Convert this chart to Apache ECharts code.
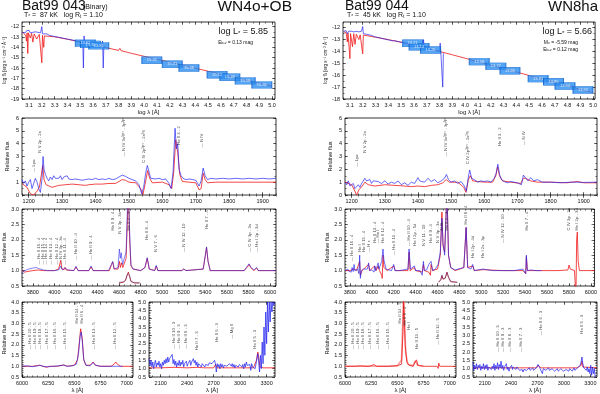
<!DOCTYPE html>
<html>
<head>
<meta charset="utf-8">
<script src="https://cdn.jsdelivr.net/npm/echarts@6/dist/echarts.min.js"></script>
<style>
  html, body { margin: 0; background: #fff; }
  #chart { width: 600px; height: 394px; }
</style>
</head>
<body>
<div id="chart"></div>
<script>
// ---- tick labels ----
const sedXTicks = [3.1, 3.2, 3.3, 3.4, 3.5, 3.6, 3.7, 3.8, 3.9, 4.0, 4.1, 4.2, 4.3, 4.4, 4.5, 4.6, 4.7, 4.8, 4.9, 5.0]
const sedYTicksL = [-19, -18, -17, -16, -15, -14, -13, -12]
const sedYTicksR = [-18, -17, -16, -15, -14, -13, -12]
const uvXTicks = [1200, 1300, 1400, 1500, 1600, 1700, 1800, 1900]
const uvYTicks = [0, 1, 2, 3, 4, 5, 6]
const optXTicks = [3800, 4000, 4200, 4400, 4600, 4800, 5000, 5200, 5400, 5600, 5800, 6000]
const optYTicks = [0.5, 1.0, 1.5, 2.0, 2.5, 3.0]
const haXTicks = [6000, 6250, 6500, 6750, 7000]
const haYTicks = [0.5, 1.0, 1.5, 2.0, 2.5, 3.0, 3.5, 4.0]
const nuvXTicks = [2100, 2400, 2700, 3000, 3300]
const nuvYTicks = [0.5, 1.0, 1.5, 2.0, 2.5, 3.0, 3.5, 4.0, 4.5, 5.0]

// ---- Bat99 043 (left) ----
const sedModelL = [[3.05,-12.5],[3.06,-12.55],[3.075,-12.9],[3.08,-13.4],[3.085,-12.6],[3.09,-14.6],[3.095,-12.6],[3.11,-13.1],[3.12,-12.65],[3.13,-13.5],[3.14,-12.7],[3.16,-13.2],[3.18,-12.75],[3.195,-12.8],[3.2,-15.5],[3.205,-12.85],[3.215,-14.0],[3.22,-12.9],[3.3,-12.98],[3.4,-13.22],[3.5,-13.47],[3.6,-13.74],[3.7,-14.02],[3.8,-14.3],[3.81,-14.1],[3.82,-14.33],[3.9,-14.58],[4.0,-14.87],[4.1,-15.15],[4.2,-15.44],[4.3,-15.73],[4.4,-16.02],[4.5,-16.31],[4.6,-16.6],[4.7,-16.89],[4.8,-17.18],[4.9,-17.47],[5.0,-17.76]]
const sedObsL = [[3.05,-12.55],[3.06,-12.45],[3.07,-12.6],[3.08,-12.4],[3.09,-12.5],[3.1,-12.35],[3.11,-12.6],[3.12,-12.5],[3.13,-12.55],[3.14,-12.6],[3.15,-12.5],[3.16,-12.65],[3.17,-12.55],[3.18,-12.7],[3.19,-12.6],[3.2,-12.0],[3.205,-12.7],[3.21,-12.65],[3.22,-12.75],[3.24,-12.7],[3.26,-12.85],[3.28,-12.9],[3.3,-12.95],[3.32,-13.0],[3.34,-13.05],[3.36,-13.1],[3.38,-13.15],[3.4,-13.2],[3.42,-13.25],[3.44,-13.3],[3.46,-13.35],[3.48,-13.4],[3.5,-13.45],[3.51,-13.3],[3.52,-13.5],[3.525,-16.0],[3.53,-12.9],[3.535,-13.6],[3.55,-13.55],[3.57,-13.6],[3.59,-13.7],[3.61,-13.75],[3.63,-13.8],[3.65,-13.85],[3.67,-13.9],[3.675,-13.4],[3.68,-16.0],[3.685,-13.95],[3.7,-14.0]]
const photL = [[3.54,-13.6,'13.62'],[3.58,-13.72,'13.70'],[3.645,-13.86,'13.81'],[4.06,-15.25,'15.22'],[4.22,-15.64,'15.31'],[4.35,-16.0,'15.38'],[4.57,-16.65,'15.52'],[4.67,-16.9,'15.49'],[4.79,-17.25,'15.58'],[4.92,-17.64,'15.66']]

const uvModelL = [[1180,0.9],[1195,0.6],[1205,0.1],[1215,0.0],[1225,0.3],[1232,0.6],[1238,1.6],[1242,2.3],[1246,1.2],[1252,0.8],[1270,0.6],[1290,0.75],[1310,0.8],[1330,0.85],[1350,0.8],[1370,0.75],[1380,0.8],[1400,0.85],[1420,0.85],[1440,0.9],[1460,0.9],[1480,1.2],[1490,1.15],[1500,1.0],[1520,0.95],[1535,0.5],[1542,0.05],[1548,0.8],[1556,1.9],[1562,1.3],[1570,0.95],[1600,1.0],[1620,0.8],[1628,0.5],[1634,1.8],[1640,4.3],[1646,3.3],[1652,1.6],[1660,1.05],[1680,1.0],[1700,0.95],[1710,0.4],[1716,0.5],[1722,1.7],[1728,1.2],[1735,0.95],[1760,1.0],[1800,1.0],[1850,1.0],[1900,1.0],[1940,1.0]]
const uvObsL = [[1180,1.2],[1185,0.9],[1190,1.1],[1195,0.7],[1200,1.0],[1205,1.2],[1210,0.5],[1215,0.9],[1220,1.3],[1225,1.0],[1230,0.5],[1235,0.2],[1240,1.3],[1243,3.0],[1246,2.0],[1250,1.6],[1255,1.3],[1260,1.1],[1265,1.4],[1270,1.2],[1275,1.5],[1280,1.3],[1285,1.4],[1290,1.3],[1295,1.5],[1300,1.2],[1305,1.4],[1310,1.3],[1315,1.5],[1320,1.25],[1325,1.4],[1330,1.2],[1335,1.35],[1340,1.25],[1345,1.3],[1350,1.2],[1355,1.3],[1360,1.15],[1365,1.3],[1370,1.2],[1375,1.35],[1380,1.25],[1390,1.2],[1400,1.3],[1410,1.2],[1420,1.25],[1430,1.2],[1440,1.3],[1450,1.2],[1460,1.25],[1470,1.4],[1480,1.55],[1490,1.45],[1500,1.3],[1510,1.2],[1520,1.1],[1530,0.8],[1538,0.1],[1544,0.6],[1550,1.7],[1555,2.3],[1560,1.8],[1565,1.3],[1570,1.2],[1580,1.25],[1590,1.3],[1600,1.2],[1610,1.25],[1620,0.9],[1626,0.5],[1632,1.8],[1638,5.2],[1642,3.6],[1646,4.0],[1650,2.0],[1656,1.5],[1662,1.3],[1670,1.2],[1680,1.25],[1690,1.2],[1700,1.15],[1710,0.7],[1716,1.1],[1722,2.1],[1728,1.5],[1735,1.2],[1745,1.3],[1760,1.25],[1780,1.3],[1800,1.25],[1820,1.3],[1840,1.25],[1860,1.3],[1880,1.25],[1900,1.3],[1920,1.25],[1940,1.3]]
const uvIdsL = [[1216,1.8,'— Lyα'],[1232,3.3,'N V 2p - 2s'],[1485,3.0,'— N IV 3s³P° - 3p³P'],[1545,2.5,'C IV 2p²P° - 2s²S'],[1650,3.9,'He II 3 - 2'],[1718,3.7,'— N IV']]

const optModelL = [[3700,1.0],[3720,0.95],[3800,1.0],[3850,1.02],[3900,1.0],[3960,1.0],[4000,1.0],[4040,1.05],[4058,1.33],[4070,1.05],[4090,1.03],[4100,1.1],[4110,1.02],[4180,1.0],[4200,1.12],[4220,1.0],[4320,1.0],[4340,1.12],[4360,1.0],[4510,1.0],[4530,1.2],[4541,1.28],[4555,1.05],[4590,1.05],[4604,1.3],[4612,1.1],[4622,1.25],[4635,1.1],[4650,1.15],[4665,1.4],[4676,2.5],[4686,3.6],[4698,2.0],[4710,1.15],[4730,1.05],[4800,1.0],[4840,1.1],[4861,1.4],[4880,1.05],[4930,1.0],[4945,1.15],[4960,1.0],[5180,1.0],[5200,1.05],[5220,1.0],[5380,1.05],[5400,1.5],[5411,1.75],[5425,1.3],[5445,1.0],[5760,1.0],[5790,1.12],[5805,1.2],[5820,1.1],[5850,1.0],[5875,1.08],[5890,1.0],[6055,1.0]]
const optObsL = [[3700,0.9],[3710,0.97],[3730,1.0],[3760,1.05],[3800,1.08],[3830,1.1],[3860,1.06],[3900,1.02],[3940,1.0],[4000,1.0],[4040,1.02],[4058,1.15],[4075,1.02],[4100,1.1],[4120,1.02],[4180,1.0],[4200,1.14],[4220,1.0],[4320,1.0],[4340,1.15],[4360,1.0],[4500,1.0],[4530,1.2],[4541,1.3],[4555,1.05],[4590,1.1],[4603,1.7],[4612,1.4],[4620,1.58],[4632,1.2],[4650,1.2],[4665,1.6],[4676,2.9],[4686,3.6],[4698,2.3],[4710,1.2],[4730,1.05],[4800,1.0],[4840,1.1],[4861,1.42],[4880,1.05],[4930,1.0],[4945,1.17],[4960,1.0],[5180,1.0],[5200,1.05],[5220,1.0],[5380,1.05],[5400,1.5],[5411,1.77],[5425,1.3],[5445,1.0],[5760,1.0],[5790,1.15],[5805,1.22],[5820,1.12],[5850,1.02],[5875,1.1],[5890,1.0],[6055,1.0]]
const insetModelL = [[4600,0.6],[4640,0.62],[4660,0.68],[4675,0.85],[4686,0.95],[4697,0.82],[4710,0.65],[4740,0.6],[4790,0.6]]
const insetObsL = [[4600,0.62],[4640,0.64],[4660,0.7],[4675,0.88],[4686,0.94],[4697,0.85],[4710,0.66],[4740,0.61],[4790,0.6]]
const optIdsL = [[3860,1.2,'— He II 16 - 4'],[3890,1.2,'— He II 15 - 4'],[3923,1.2,'— He II 14 - 4'],[3968,1.2,'— He II 13 - 4'],[4025,1.2,'— He II 12 - 4'],[4058,1.2,'— N IV 3p - 3s'],[4100,1.2,'— He II 11 - 4'],[4200,1.35,'— He II 10 - 4'],[4340,1.35,'— He II 9 - 4'],[4541,2.3,'He II 9 - 4'],[4604,2.2,'N V 3p - 3s'],[4686,2.3,'He II 4 - 3'],[4861,2.0,'He II 8 - 4'],[4945,1.6,'N V 7 - 6'],[5200,1.6,'— N IV 12 - 10'],[5411,2.35,'He II 7 - 4'],[5808,1.6,'— C IV 3p - 3s'],[5876,1.6,'— He I 2p - 3d']]

const haModelL = [[6000,1.0],[6100,1.0],[6170,1.05],[6200,1.0],[6235,0.95],[6260,1.0],[6330,1.0],[6400,1.06],[6430,1.0],[6500,1.05],[6530,1.3],[6545,2.0],[6560,2.75],[6575,2.3],[6590,1.3],[6610,1.05],[6650,1.05],[6680,1.2],[6700,1.05],[6750,1.0],[6850,1.0],[6880,1.1],[6895,1.2],[6910,1.1],[6940,1.0],[7060,1.0]]
const haObsL = [[6000,1.0],[6050,1.02],[6100,0.98],[6150,1.02],[6170,1.05],[6200,1.0],[6230,0.98],[6245,0.9],[6260,0.98],[6300,1.0],[6350,1.02],[6400,1.06],[6430,1.0],[6480,1.02],[6520,1.1],[6540,1.6],[6555,2.4],[6565,2.6],[6575,2.2],[6590,1.3],[6610,1.05],[6650,1.02],[6680,1.18],[6700,1.05],[6750,1.0],[6800,1.0],[6850,1.0],[6900,1.0],[6960,1.0]]
const haIdsL = [[6074,1.8,'— He II 20 - 5'],[6118,1.8,'— He II 19 - 5'],[6171,1.8,'— He II 18 - 5'],[6234,1.8,'— He II 17 - 5'],[6311,1.8,'— He II 16 - 5'],[6406,1.8,'— He II 15 - 5'],[6527,3.0,'He II 14 - 5'],[6575,3.0,'He II 6 - 4'],[6683,1.8,'— He II 13 - 5'],[6891,1.8,'— He II 12 - 5']]

const nuvModelL = [[1967,1.05],[2100,1.05],[2250,1.08],[2400,1.05],[2510,1.08],[2600,1.05],[2700,1.05],[2720,1.25],[2740,1.05],[2900,1.05],[3150,1.05],[3185,1.5],[3200,2.0],[3210,1.7],[3225,1.1],[3260,1.05],[3395,1.05]]
const nuvObsL = [[1967,1.6],[1980,1.2],[1990,1.5],[2000,1.1],[2010,1.4],[2020,1.0],[2030,1.3],[2040,1.5],[2050,1.1],[2060,1.35],[2070,1.2],[2080,1.45],[2090,1.1],[2100,1.3],[2110,1.0],[2120,1.4],[2130,1.2],[2140,1.5],[2150,1.3],[2160,1.6],[2170,1.35],[2180,1.7],[2190,1.4],[2200,1.6],[2210,1.5],[2220,1.6],[2230,1.85],[2240,1.3],[2250,1.55],[2260,1.2],[2270,1.45],[2280,1.1],[2290,1.35],[2300,1.2],[2310,1.5],[2320,1.15],[2330,1.4],[2340,1.25],[2350,1.5],[2360,1.1],[2370,1.3],[2380,1.2],[2390,1.45],[2400,1.15],[2410,1.3],[2420,1.25],[2430,1.5],[2440,1.2],[2450,1.4],[2460,1.3],[2470,1.6],[2480,1.35],[2490,1.5],[2500,1.2],[2510,1.4],[2520,1.1],[2530,1.3],[2540,1.2],[2550,1.4],[2560,1.1],[2570,1.3],[2580,1.2],[2590,1.35],[2600,1.1],[2610,1.25],[2620,1.15],[2630,1.3],[2640,1.2],[2650,1.35],[2660,1.25],[2670,1.45],[2680,1.3],[2690,1.4],[2700,1.35],[2710,1.5],[2720,1.3],[2730,0.8],[2740,1.3],[2750,1.1],[2760,1.25],[2770,1.0],[2780,1.3],[2790,1.1],[2800,1.25],[2810,1.05],[2820,1.2],[2830,1.1],[2840,1.3],[2850,1.15],[2860,1.25],[2870,1.1],[2880,1.3],[2890,1.2],[2900,1.15],[2910,1.3],[2920,1.1],[2930,1.25],[2940,1.05],[2950,1.2],[2960,1.1],[2970,1.3],[2980,1.1],[2990,1.25],[3000,1.15],[3010,1.3],[3020,1.1],[3030,1.25],[3040,1.0],[3050,1.3],[3060,1.1],[3070,1.4],[3080,1.2],[3090,1.3],[3100,1.1],[3110,1.25],[3120,0.9],[3130,1.3],[3140,1.1],[3150,1.2],[3170,1.0],[3190,1.6],[3200,1.9],[3210,1.4],[3220,0.8],[3230,1.8],[3240,1.0],[3250,2.6],[3260,1.3],[3270,3.5],[3280,1.8],[3290,4.4],[3300,2.5],[3310,5.0],[3320,3.2],[3330,5.0],[3340,3.8],[3350,5.0],[3360,4.4],[3370,5.0],[3380,4.8],[3395,5.0]]
const nuvIdsL = [[2253,2.2,'— He II 10 - 3'],[2306,2.2,'— He II 9 - 3'],[2385,2.2,'— He II 8 - 3'],[2511,2.1,'He II 7 - 3'],[2733,2.6,'He II 6 - 3'],[2900,2.8,'— Mg II'],[3170,2.2,'He II 5 - 3']]

// ---- Bat99 044 (right) ----
const sedModelR = [[3.05,-12.35],[3.07,-12.4],[3.08,-13.2],[3.085,-12.45],[3.1,-14.6],[3.105,-12.5],[3.12,-13.6],[3.13,-12.5],[3.14,-13.4],[3.15,-12.55],[3.17,-13.0],[3.18,-12.6],[3.2,-14.2],[3.205,-12.62],[3.3,-12.8],[3.4,-13.0],[3.5,-13.22],[3.6,-13.46],[3.7,-13.72],[3.8,-14.0],[3.9,-14.28],[4.0,-14.57],[4.1,-14.86],[4.2,-15.15],[4.3,-15.44],[4.4,-15.73],[4.5,-16.02],[4.6,-16.31],[4.7,-16.6],[4.8,-16.89],[4.9,-17.18],[5.0,-17.47]]
const sedObsR = [[3.05,-12.3],[3.06,-12.45],[3.07,-12.25],[3.08,-12.5],[3.09,-12.3],[3.1,-12.4],[3.11,-12.3],[3.12,-12.45],[3.13,-12.35],[3.14,-12.4],[3.15,-12.3],[3.16,-12.45],[3.17,-12.35],[3.18,-12.4],[3.19,-12.3],[3.2,-11.9],[3.205,-12.5],[3.21,-12.4],[3.23,-12.55],[3.25,-12.6],[3.27,-12.65],[3.29,-12.75],[3.31,-12.8],[3.33,-12.85],[3.35,-12.9],[3.37,-12.95],[3.39,-13.0],[3.41,-13.05],[3.43,-13.1],[3.45,-13.1],[3.47,-13.15],[3.49,-13.2],[3.51,-13.25],[3.53,-13.3],[3.55,-13.35],[3.57,-13.4],[3.59,-13.45],[3.61,-13.5],[3.63,-13.55],[3.65,-13.6],[3.67,-13.65],[3.675,-13.0],[3.68,-13.7],[3.7,-13.75],[3.72,-13.8],[3.74,-13.85],[3.76,-13.9],[3.78,-13.95],[3.8,-14.0],[3.805,-13.3],[3.81,-14.05],[3.82,-14.1],[3.825,-17.0],[3.83,-14.15]]
const photR = [[3.59,-13.31,'13.21'],[3.64,-13.6,'13.14'],[3.73,-13.88,'13.26'],[4.11,-14.86,'13.58'],[4.24,-15.25,'13.77'],[4.35,-15.62,'13.86'],[4.57,-16.29,'13.91'],[4.69,-16.55,'13.85'],[4.78,-16.91,'13.94'],[4.92,-17.24,'13.92']]

const uvModelR = [[1180,1.0],[1200,0.8],[1210,0.3],[1215,0.0],[1222,0.4],[1232,0.7],[1240,1.0],[1250,0.8],[1270,0.7],[1300,0.8],[1330,0.75],[1360,0.7],[1380,0.65],[1400,0.7],[1420,0.65],[1440,0.75],[1460,0.8],[1475,0.95],[1485,1.2],[1495,1.0],[1520,1.0],[1538,0.6],[1545,0.2],[1552,1.2],[1558,1.5],[1565,1.1],[1580,1.05],[1600,1.0],[1625,1.0],[1635,1.5],[1640,2.2],[1646,1.5],[1655,1.1],[1680,1.0],[1710,0.9],[1718,1.3],[1725,1.3],[1740,1.1],[1760,1.0],[1800,1.0],[1850,0.95],[1880,1.05],[1900,0.95],[1940,0.95]]
const uvObsR = [[1180,1.0],[1185,0.8],[1190,1.1],[1195,0.7],[1200,0.6],[1205,0.9],[1210,0.5],[1215,0.6],[1220,0.8],[1225,0.6],[1230,0.9],[1235,0.8],[1240,1.3],[1245,1.1],[1250,1.0],[1255,1.2],[1260,0.9],[1265,1.1],[1270,0.95],[1280,1.05],[1290,0.9],[1300,1.1],[1310,0.85],[1320,1.0],[1330,0.9],[1340,1.1],[1350,0.8],[1360,0.95],[1370,0.75],[1380,1.0],[1390,0.9],[1400,1.35],[1405,1.1],[1410,1.25],[1420,1.0],[1430,1.3],[1440,1.05],[1450,1.2],[1460,0.95],[1470,1.1],[1480,1.3],[1486,1.6],[1492,1.2],[1500,1.0],[1510,1.1],[1520,0.9],[1530,1.05],[1540,0.7],[1546,0.3],[1552,1.4],[1556,1.95],[1562,1.3],[1570,1.2],[1580,1.0],[1590,1.1],[1600,1.05],[1610,1.1],[1620,1.0],[1630,1.3],[1636,1.7],[1641,2.4],[1646,1.6],[1652,1.2],[1660,1.05],[1670,0.95],[1680,1.05],[1690,1.0],[1700,0.95],[1712,0.8],[1718,1.55],[1724,1.4],[1732,1.1],[1740,1.35],[1750,1.1],[1760,1.2],[1775,1.0],[1800,1.0],[1830,0.95],[1860,1.0],[1880,1.0],[1900,0.98],[1940,1.0]]
const uvIdsR = [[1216,2.2,'— Lyα'],[1240,3.3,'N V 2p - 2s'],[1485,3.0,'— N IV 3s³P° - 3p³P'],[1550,2.4,'C IV 2p²P° - 2s²S'],[1648,3.8,'He II 3 - 2'],[1718,3.9,'— N IV']]

const optModelR = [[3755,1.0],[3800,1.0],[3835,1.05],[3860,1.0],[3889,1.3],[3895,0.85],[3910,1.0],[3970,1.2],[3980,1.0],[4026,1.15],[4040,1.0],[4058,1.15],[4070,1.0],[4090,0.85],[4095,0.75],[4102,1.5],[4110,1.1],[4140,1.0],[4200,1.15],[4215,1.0],[4330,1.0],[4340,1.6],[4350,1.0],[4388,1.1],[4400,1.0],[4460,0.95],[4471,1.2],[4480,1.0],[4520,0.95],[4535,0.85],[4541,1.2],[4555,1.0],[4600,1.05],[4625,1.5],[4640,2.9],[4650,1.8],[4665,1.6],[4686,3.6],[4700,1.5],[4720,1.1],[4760,1.0],[4840,1.1],[4861,2.4],[4875,1.1],[4921,1.15],[4935,1.0],[5016,1.03],[5030,1.0],[5200,1.0],[5380,1.0],[5405,0.9],[5411,1.45],[5420,1.0],[5700,1.0],[5790,1.02],[5801,1.18],[5812,1.05],[5850,1.0],[5858,0.5],[5864,0.3],[5870,2.0],[5876,2.25],[5884,1.3],[5895,1.0],[6033,1.0]]
const optObsR = [[3755,1.0],[3770,0.97],[3780,1.05],[3790,0.98],[3800,1.02],[3812,0.95],[3820,1.1],[3830,0.97],[3838,1.2],[3845,1.0],[3860,0.98],[3870,1.05],[3882,0.9],[3889,1.5],[3895,0.75],[3905,1.0],[3925,1.05],[3940,1.0],[3960,1.05],[3970,1.25],[3980,1.0],[4000,1.02],[4020,0.95],[4026,1.15],[4035,1.0],[4050,1.05],[4058,1.25],[4065,1.05],[4080,1.1],[4090,1.3],[4102,1.7],[4110,1.35],[4120,1.2],[4130,1.05],[4180,1.0],[4200,1.2],[4210,1.0],[4250,1.0],[4330,1.05],[4340,1.7],[4352,1.05],[4388,1.15],[4400,1.0],[4440,1.0],[4460,0.85],[4471,1.3],[4480,1.0],[4500,1.02],[4520,1.2],[4530,1.15],[4541,1.3],[4555,1.0],[4580,1.05],[4605,1.2],[4625,1.6],[4640,2.7],[4650,1.9],[4665,1.5],[4686,3.6],[4700,1.5],[4720,1.1],[4760,1.02],[4840,1.1],[4861,2.4],[4875,1.1],[4905,1.05],[4921,1.2],[4935,1.0],[5016,1.05],[5030,1.0],[5100,1.0],[5200,1.0],[5300,1.0],[5380,1.05],[5405,0.9],[5411,1.5],[5420,1.0],[5450,1.02],[5500,1.0],[5550,1.0]]
const insetModelR = [[4610,0.62],[4630,0.7],[4640,0.84],[4650,0.72],[4670,0.75],[4686,0.95],[4700,0.78],[4720,0.64],[4780,0.62]]
const insetObsR = [[4610,0.63],[4630,0.72],[4640,0.86],[4650,0.74],[4670,0.77],[4686,0.94],[4700,0.8],[4720,0.65],[4780,0.62]]
const optIdsR = [[3820,1.3,'— He II 16 - 4'],[3889,1.6,'He I'],[3923,1.6,'He II 15 - 4'],[3968,1.6,'— H ε'],[4026,1.9,'He II 13 - 4'],[4058,1.9,'— He I'],[4102,1.9,'He II 12 - 4'],[4200,1.5,'— He II 11 - 4'],[4340,1.8,'— He II 10 - 4'],[4388,1.8,'He I 2p - 5d'],[4471,1.8,'N V 11 - 10'],[4541,1.9,'He II 9 - 4'],[4604,1.9,'N V 3p - 3s'],[4640,2.3,'N III'],[4686,2.3,'He II 4 - 3'],[4861,2.5,'He II 8 - 4'],[4921,1.4,'He I 2p - 4d'],[5016,1.4,'He I 2s - 3p'],[5200,1.9,'— N IV 12 - 10'],[5411,2.3,'He II 7 - 4'],[5801,2.3,'C IV 3p - 3s'],[5876,2.3,'He I 2p - 3d']]

const haModelR = [[6000,1.0],[6050,1.0],[6100,1.0],[6150,1.02],[6200,1.0],[6210,1.06],[6230,1.0],[6280,1.08],[6300,1.0],[6400,1.0],[6410,0.95],[6420,1.0],[6500,1.03],[6540,1.1],[6553,2.5],[6560,4.2],[6575,2.0],[6590,1.2],[6610,1.05],[6650,1.0],[6670,1.2],[6683,1.3],[6695,1.05],[6750,1.0],[6880,1.0],[6890,0.9],[6895,1.15],[6905,1.0],[7060,1.0]]
const haObsR = [[6000,1.0],[6100,1.0],[6200,1.0],[6300,1.0],[6400,1.0],[6500,1.02],[6540,1.3],[6552,3.2],[6558,4.2],[6572,4.2],[6580,1.6],[6600,1.1],[6650,1.02],[6670,1.25],[6683,1.3],[6695,1.05],[6750,1.0]]
const haIdsR = [[6074,1.8,'— He II 20 - 5'],[6118,1.8,'— He II 19 - 5'],[6171,1.8,'— He II 18 - 5'],[6234,1.8,'— He II 17 - 5'],[6311,1.8,'— He II 16 - 5'],[6406,1.8,'— He II 15 - 5'],[6520,3.0,'He II 14 - 5'],[6575,2.9,'He II 6 - 4'],[6610,2.7,'He I'],[6683,1.8,'He II 13 - 5'],[6891,2.0,'— He II 12 - 5']]

const nuvModelR = [[1966,1.05],[2100,1.05],[2300,1.05],[2500,1.05],[2690,1.05],[2705,1.2],[2715,1.3],[2725,1.1],[2740,1.05],[2900,1.05],[3150,1.05],[3195,1.2],[3205,1.45],[3215,1.1],[3376,1.05]]
const nuvObsR = [[1966,1.4],[1975,0.9],[1985,1.2],[1995,1.0],[2005,1.3],[2015,0.95],[2025,1.2],[2035,1.05],[2045,1.25],[2055,0.9],[2065,1.15],[2075,1.0],[2085,1.3],[2095,0.95],[2105,1.2],[2115,1.0],[2125,1.25],[2135,0.9],[2145,1.1],[2155,1.0],[2165,1.2],[2175,0.95],[2185,1.15],[2195,1.0],[2205,1.3],[2215,0.9],[2225,1.2],[2235,1.0],[2245,1.35],[2255,0.95],[2265,1.25],[2275,1.05],[2285,1.45],[2295,1.0],[2305,1.2],[2315,0.9],[2325,1.1],[2335,1.0],[2345,1.3],[2355,0.95],[2365,1.1],[2375,0.85],[2385,1.05],[2395,1.0],[2405,1.2],[2415,0.95],[2425,1.1],[2435,1.0],[2445,1.15],[2455,0.95],[2465,1.1],[2475,1.0],[2485,1.05],[2495,0.9],[2505,1.0],[2515,0.85],[2525,0.95],[2535,0.8],[2545,0.95],[2555,0.85],[2565,1.0],[2575,0.9],[2585,1.0],[2595,0.95],[2605,1.05],[2615,0.9],[2625,1.0],[2635,0.95],[2645,1.05],[2655,0.9],[2665,1.0],[2675,0.95],[2685,1.05],[2695,1.1],[2705,1.25],[2715,1.3],[2725,1.05],[2735,0.95],[2745,1.0],[2755,0.7],[2765,1.0],[2775,0.95],[2785,1.05],[2795,0.9],[2805,1.0],[2815,0.95],[2825,1.05],[2835,0.9],[2845,1.0],[2855,0.95],[2865,1.0],[2875,0.9],[2885,0.95],[2895,0.85],[2905,0.95],[2915,0.9],[2925,1.0],[2935,0.85],[2945,0.95],[2955,0.9],[2965,1.0],[2975,0.95],[2985,0.9],[2995,0.85],[3005,0.95],[3015,0.8],[3025,0.95],[3035,0.9],[3045,1.0],[3055,0.85],[3065,1.0],[3075,0.9],[3085,0.95],[3095,0.85],[3105,0.95],[3115,1.05],[3125,0.9],[3135,1.0],[3145,0.95],[3155,1.05],[3165,1.0],[3175,1.1],[3185,1.2],[3195,1.4],[3205,1.7],[3215,1.3],[3225,1.05],[3235,1.0],[3245,1.1],[3255,0.9],[3265,1.1],[3275,0.8],[3285,1.0],[3295,0.7],[3305,1.2],[3315,0.6],[3325,1.1],[3335,0.7],[3345,1.0],[3355,0.5]]
const nuvIdsR = [[2253,2.0,'— He II 10 - 3'],[2306,2.0,'— He II 9 - 3'],[2385,2.0,'— He II 8 - 3'],[2511,2.0,'— He II 7 - 3'],[2733,3.0,'— He II 6 - 3'],[3203,3.1,'He II 5 - 3']]

// ---- build ----
const FONT = 'Liberation Sans, Arial, sans-serif'
const RED = '#f01818'
const BLUE = '#2020f0'
const grids = [], xAxes = [], yAxes = [], series = []

function minorTicks(t, n, lo, hi) {
  const s = (t[1] - t[0]) / n
  let v = t[0]
  while (v - s >= lo - 1e-9) v -= s
  const out = []
  for (; v <= hi + 1e-9; v += s) out.push(+v.toFixed(4))
  return out
}

function panel(box, xr, yr, xt, yt, nx, ny, o) {
  const g = grids.length
  grids.push({ left: box[0], top: box[1], width: box[2] - box[0], height: box[3] - box[1],
    show: true, borderColor: '#000', borderWidth: 0.8, backgroundColor: 'transparent' })
  const xm = minorTicks(xt, nx, xr[0], xr[1]), ym = minorTicks(yt, ny, yr[0], yr[1])
  const xi = xAxes.length, yi = yAxes.length
  const lab = { fontSize: 5.5, color: '#111', fontFamily: FONT }
  ;[['bottom', xt, 3, true], ['bottom', xm, 1.6, false], ['top', xt, 3, false], ['top', xm, 1.6, false]].forEach(([pos, vals, len, main]) => {
    xAxes.push({ gridIndex: g, type: 'value', min: xr[0], max: xr[1], position: pos,
      axisLine: { show: false }, splitLine: { show: false },
      axisTick: { show: true, inside: true, length: len, customValues: vals, lineStyle: { color: '#000', width: 0.5 } },
      axisLabel: { show: main, customValues: vals, margin: 3, ...lab, formatter: v => o.xd != null ? (+v).toFixed(o.xd) : String(v) },
      name: main && o.xName ? o.xName : '', nameLocation: 'middle', nameGap: 10,
      nameTextStyle: { fontSize: 6, color: '#111', fontFamily: FONT } })
  })
  ;[['left', yt, 3, true], ['left', ym, 1.6, false], ['right', yt, 3, false], ['right', ym, 1.6, false]].forEach(([pos, vals, len, main]) => {
    yAxes.push({ gridIndex: g, type: 'value', min: yr[0], max: yr[1], position: pos,
      axisLine: { show: false }, splitLine: { show: false },
      axisTick: { show: true, inside: true, length: len, customValues: vals, lineStyle: { color: '#000', width: 0.5 } },
      axisLabel: { show: main, customValues: vals, margin: 3, ...lab, formatter: v => o.yd != null ? (+v).toFixed(o.yd) : String(v) },
      name: main && o.yName ? o.yName : '', nameLocation: 'middle', nameGap: o.yGap || 12, nameRotate: 90,
      nameTextStyle: { fontSize: o.yNameSize || 5.5, color: '#111', fontFamily: FONT } })
  })
  return { x: xi, y: yi }
}

function line(ax, data, color, w, op, z) {
  series.push({ type: 'line', xAxisIndex: ax.x, yAxisIndex: ax.y, data, symbol: 'none', showSymbol: false,
    lineStyle: { color, width: w || 0.7, opacity: op == null ? 1 : op }, z: z || 2, silent: true, animation: false })
}

function ids(ax, data) {
  series.push({ type: 'scatter', xAxisIndex: ax.x, yAxisIndex: ax.y, data, symbolSize: 1,
    itemStyle: { color: 'transparent' }, silent: true, animation: false, z: 5,
    label: { show: true, position: 'inside', rotate: 90, align: 'left', verticalAlign: 'middle',
      formatter: p => p.value[2], fontSize: 4.3, color: '#222', fontFamily: FONT } })
}

function phot(ax, data) {
  series.push({ type: 'scatter', xAxisIndex: ax.x, yAxisIndex: ax.y, data, symbol: 'rect', symbolSize: [20, 7],
    itemStyle: { color: '#2a8cf0', borderColor: '#0b5fc8', borderWidth: 0.6 }, silent: true, animation: false, z: 6,
    label: { show: true, position: 'inside', formatter: p => p.value[2], fontSize: 4, color: '#fff', fontFamily: FONT } })
}

const sedName = 'log f\u03bb [erg s\u207b\u00b9 cm\u207b\u00b2 \u00c5\u207b\u00b9]'
const relName = 'Relative flux'

// left column
const aSL = panel([22, 22, 275, 99], [3.045, 5.023], [-19, -11.55], sedXTicks, sedYTicksL, 2, 2, { xd: 1, xName: 'log \u03bb [\u00c5]', yName: sedName, yNameSize: 4.5, yGap: 11 })
line(aSL, sedModelL, RED, 0.8)
line(aSL, sedObsL, BLUE, 0.8, 0.85, 3)
phot(aSL, photL)

const aUL = panel([22, 118, 276, 195], [1180, 1940], [0, 6], uvXTicks, uvYTicks, 5, 2, { yName: relName })
line(aUL, uvModelL, RED, 0.8)
line(aUL, uvObsL, BLUE, 0.8, 0.85, 3)
ids(aUL, uvIdsL)

const aOL = panel([22, 209, 276, 286], [3700, 6055], [0.5, 3.0], optXTicks, optYTicks, 4, 5, { yd: 1, yName: relName })
line(aOL, optModelL, RED, 0.8)
line(aOL, optObsL, BLUE, 0.8, 0.7, 3)
line(aOL, insetModelL, '#b01010', 0.8)
line(aOL, insetObsL, '#4020a0', 0.6, 0.6, 3)
ids(aOL, optIdsL)

const aHL = panel([22, 302, 133, 378], [6000, 7060], [0.5, 4.0], haXTicks, haYTicks, 5, 5, { yd: 1, yName: relName, xName: '\u03bb [\u00c5]' })
line(aHL, haModelL, RED, 0.8)
line(aHL, haObsL, BLUE, 0.8, 0.8, 3)
ids(aHL, haIdsL)

const aNL = panel([149, 302, 275, 378], [1967, 3395], [0.5, 5.0], nuvXTicks, nuvYTicks, 3, 5, { yd: 1, xName: '\u03bb [\u00c5]' })
line(aNL, nuvModelL, RED, 0.8)
line(aNL, nuvObsL, BLUE, 0.8, 0.9, 3)
ids(aNL, nuvIdsL)

// right column
const aSR = panel([343, 22, 597, 99], [3.046, 5.015], [-18, -11.52], sedXTicks, sedYTicksR, 2, 2, { xd: 1, xName: 'log \u03bb [\u00c5]', yName: sedName, yNameSize: 4.5, yGap: 11 })
line(aSR, sedModelR, RED, 0.8)
line(aSR, sedObsR, BLUE, 0.8, 0.85, 3)
phot(aSR, photR)

const aUR = panel([345, 118, 597, 195], [1180, 1940], [0, 6], uvXTicks, uvYTicks, 5, 2, { yName: relName })
line(aUR, uvModelR, RED, 0.8)
line(aUR, uvObsR, BLUE, 0.8, 0.85, 3)
ids(aUR, uvIdsR)

const aOR = panel([345, 209, 597, 286], [3755, 6033], [0.5, 3.0], optXTicks, optYTicks, 4, 5, { yd: 1, yName: relName })
line(aOR, optModelR, RED, 0.8)
line(aOR, optObsR, BLUE, 0.8, 0.8, 3)
line(aOR, insetModelR, '#b01010', 0.8)
line(aOR, insetObsR, '#4020a0', 0.6, 0.6, 3)
ids(aOR, optIdsR)

const aHR = panel([345, 302, 456, 378], [6000, 7060], [0.5, 4.0], haXTicks, haYTicks, 5, 5, { yd: 1, yName: relName, xName: '\u03bb [\u00c5]' })
line(aHR, haObsR, '#f7a0a0', 1.6, 1, 1)
line(aHR, haModelR, RED, 0.8)
ids(aHR, haIdsR)

const aNR = panel([473, 302, 597, 378], [1966, 3376], [0.5, 5.0], nuvXTicks, nuvYTicks, 3, 5, { yd: 1, xName: '\u03bb [\u00c5]' })
line(aNR, nuvModelR, RED, 0.8)
line(aNR, nuvObsR, BLUE, 0.8, 0.9, 3)
ids(aNR, nuvIdsR)

// header texts
function txt(x, y, text, size, align, rich) {
  return { type: 'text', left: align === 'right' ? null : x, right: align === 'right' ? 600 - x : null, top: y, silent: true,
    style: { text, fontSize: size, fill: '#111', fontFamily: FONT, rich: rich || undefined } }
}
const sub = { s: { fontSize: 4.5, fontFamily: FONT, fill: '#111', verticalAlign: 'bottom', padding: [3, 0, 0, 0] },
  n: { fontSize: 7, fontFamily: FONT, fill: '#111' } }
const subL = { s: { fontSize: 6, fontFamily: FONT, fill: '#111', padding: [4, 0, 0, 0] }, n: { fontSize: 9, fontFamily: FONT, fill: '#111' } }
const subE = { s: { fontSize: 3.5, fontFamily: FONT, fill: '#111', padding: [2, 0, 0, 0] }, n: { fontSize: 5, fontFamily: FONT, fill: '#111' } }

const graphic = [
  txt(22, -0.5, 'Bat99 043', 14),
  txt(83, 3.5, '(Binary)', 7),
  txt(292, -1, 'WN4o+OB', 15.5, 'right'),
  txt(24, 11.5, '{n|T}{s|*}{n| =  87 kK   log R}{s|t}{n| = 1.10}', 7, 'left', sub),
  txt(268, 27, '{n|log L}{s|*}{n| = 5.85}', 9, 'right', subL),
  txt(253, 40, '{n|E}{s|b-v}{n| = 0.13 mag}', 5, 'right', subE),
  txt(345, -0.5, 'Bat99 044', 14),
  txt(598, -1, 'WN8ha', 15, 'right'),
  txt(347, 11.5, '{n|T}{s|*}{n| =  45 kK   log R}{s|t}{n| = 1.10}', 7, 'left', sub),
  txt(592, 27, '{n|log L}{s|*}{n| = 5.66}', 9, 'right', subL),
  txt(578, 40, '{n|M}{s|v}{n| = -5.59 mag}', 5, 'right', subE),
  txt(578, 47, '{n|E}{s|b-v}{n| = 0.12 mag}', 5, 'right', subE)
]

const chart = echarts.init(document.getElementById('chart'), null, { renderer: 'canvas' })
chart.setOption({
  animation: false,
  backgroundColor: '#fff',
  grid: grids,
  xAxis: xAxes,
  yAxis: yAxes,
  series,
  graphic
})
</script>
</body>
</html>
